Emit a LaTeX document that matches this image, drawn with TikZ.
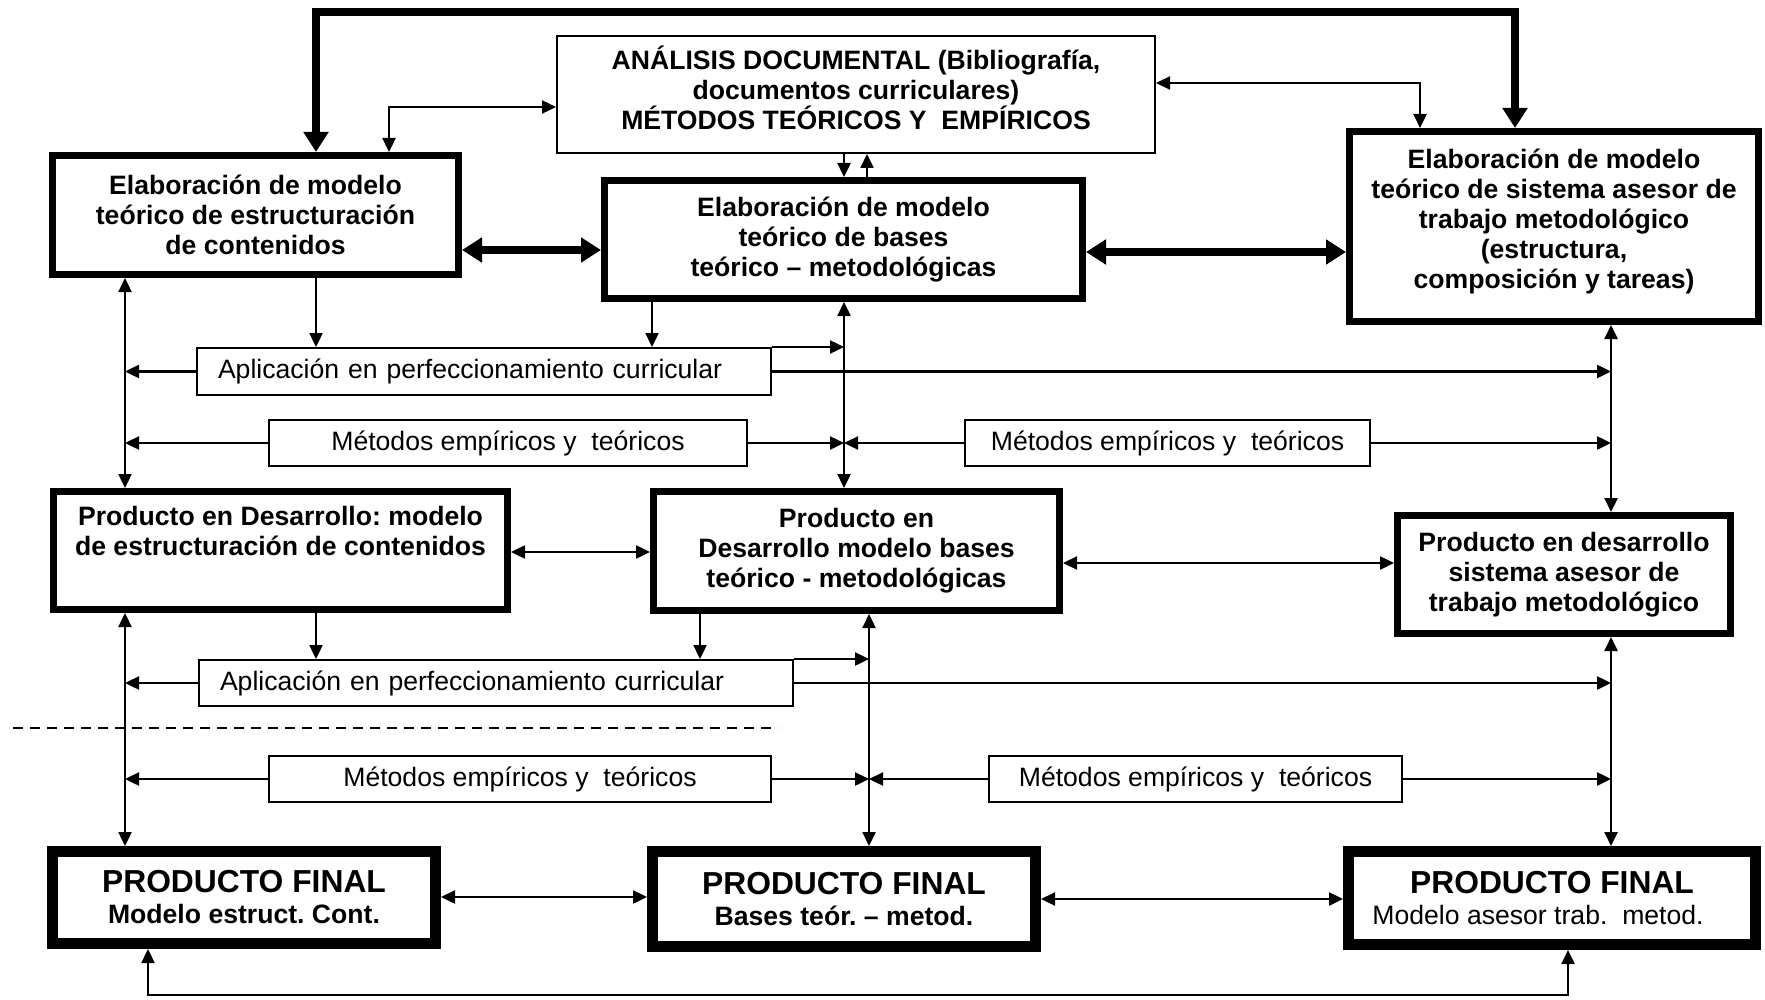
\documentclass[tikz,border=0pt]{standalone}
\usepackage{fontspec}
\setmainfont{Liberation Sans}
\usetikzlibrary{arrows.meta}
\frenchspacing
\begin{document}
\begin{tikzpicture}[x=0.5pt,y=-0.5pt,
  smalltip/.tip={Triangle[length=7pt,width=6.5pt]},
  bigtip/.tip={Triangle[length=10pt,width=12pt]},
  >=smalltip,
  txt/.style={inner sep=0pt, align=center, font=\fontsize{13.3}{15}\selectfont\bfseries},
  thinbox/.style={txt, draw, line width=1pt},
  boldbox/.style={txt, draw, line width=3.5pt},
  finalbox/.style={txt, draw, line width=5.5pt, font=\fontsize{15.9}{15.5}\selectfont\bfseries},
  lblbox/.style={draw, line width=1pt, inner sep=0pt, align=center, font=\fontsize{13.3}{15}\selectfont},
  applbox/.style={draw, line width=1pt, inner ysep=0pt, inner xsep=10.5pt, align=left, font=\fontsize{13.3}{15}\selectfont},
  link/.style={line width=1.2pt},
  heavy/.style={line width=4pt, bigtip-bigtip, line join=miter}
]
\useasboundingbox (0,0) rectangle (1765,1000);

% ---------- upper level: elaboration of models ----------
\node[thinbox, minimum width=299pt, minimum height=58.5pt, text depth=7pt] (ana) at (856,94.5)
  {ANÁLISIS DOCUMENTAL (Bibliografía,\\documentos curriculares)\\MÉTODOS TEÓRICOS Y\ \ EMPÍRICOS};
\node[boldbox, minimum width=203pt, minimum height=59.5pt] (em1) at (255.5,215)
  {Elaboración de modelo\\teórico de estructuración\\de contenidos};
\node[boldbox, minimum width=239pt, minimum height=59pt] (em2) at (843.5,239.5)
  {Elaboración de modelo\\teórico de bases\\teórico – metodológicas};
\node[boldbox, minimum width=204.5pt, minimum height=95pt, text depth=7.8pt] (em3) at (1554,226.5)
  {Elaboración de modelo\\teórico de sistema asesor de\\trabajo metodológico\\(estructura,\\composición y tareas)};

% ---------- first application / methods row ----------
\node[applbox, text width=266pt, minimum height=23.5pt] (app1) at (484,371.5)
  {Aplicación en perfeccionamiento curricular};
\node[lblbox, minimum width=239pt, minimum height=23pt] (met1) at (508,443)
  {Métodos empíricos y\ \ teóricos};
\node[lblbox, minimum width=202.5pt, minimum height=23pt] (met2) at (1167.5,443)
  {Métodos empíricos y\ \ teóricos};

% ---------- products in development ----------
\node[boldbox, minimum width=227pt, minimum height=59pt] (prod1) at (280.5,550.5)
  {Producto en Desarrollo: modelo\\de estructuración de contenidos\\\strut};
\node[boldbox, minimum width=203pt, minimum height=59.5pt] (prod2) at (856.5,551)
  {Producto en\\Desarrollo modelo bases\\teórico - metodológicas};
\node[boldbox, minimum width=166.5pt, minimum height=59pt] (prod3) at (1564,574.5)
  {Producto en desarrollo\\sistema asesor de\\trabajo metodológico};

% ---------- second application / methods row ----------
\node[applbox, text width=276pt, minimum height=23pt] (app2) at (496,683)
  {Aplicación en perfeccionamiento curricular};
\node[lblbox, minimum width=251pt, minimum height=23pt] (met3) at (520,779)
  {Métodos empíricos y\ \ teóricos};
\node[lblbox, minimum width=206.5pt, minimum height=23pt] (met4) at (1195.5,779)
  {Métodos empíricos y\ \ teóricos};

% ---------- final products ----------
\node[finalbox, minimum width=191.5pt, minimum height=46pt] (pf1) at (244,897.5)
  {PRODUCTO FINAL\\{\fontsize{13.3}{15.5}\selectfont Modelo estruct. Cont.}};
\node[finalbox, minimum width=191.5pt, minimum height=47.5pt] (pf2) at (844,899)
  {PRODUCTO FINAL\\{\fontsize{13.3}{15.5}\selectfont Bases teór. – metod.}};
\node[finalbox, minimum width=203.5pt, minimum height=46.5pt] (pf3) at (1552,898)
  {PRODUCTO FINAL\\{\fontsize{13.3}{15.5}\selectfont\mdseries Modelo asesor trab.\ \ metod.\hspace*{14pt}}};

% ---------- guide coordinates ----------
\coordinate (xl) at (125,0);
\coordinate (xm1) at (844,0);
\coordinate (xm2) at (869,0);
\coordinate (xr) at (1611,0);
\coordinate (ka) at (316,12);
\coordinate (kb) at (1515,12);
\coordinate (c1) at (389,107);
\coordinate (c2) at (1420,83);
\coordinate (c3) at (844,0);
\coordinate (c4) at (867,0);
\coordinate (c5) at (652,0);
\coordinate (c6) at (700,0);
\coordinate (h1) at (0,250);
\coordinate (h2) at (0,252);
\coordinate (h3) at (0,552);
\coordinate (h4) at (0,563);
\coordinate (h5) at (0,897);
\coordinate (h6) at (0,899);
\coordinate (b1) at (148,995);
\coordinate (b2) at (1568,995);
\coordinate (d1) at (13,728);
\coordinate (d2) at (778,728);

% ---------- top connections ----------
\draw[heavy] (em1.north -| ka) -- (ka) -- (kb) -- (em3.north -| kb);
\draw[link,<->] (c1 -| ana.west) -| (em1.north -| c1);
\draw[link,<->] (c2 -| ana.east) -| (em3.north -| c2);
\draw[link,->] (ana.south -| c3) -- (em2.north -| c3);
\draw[link,->] (em2.north -| c4) -- (ana.south -| c4);
\draw[heavy] (em1.east |- h1) -- (em2.west |- h1);
\draw[heavy] (em2.east |- h2) -- (em3.west |- h2);

% ---------- upper verticals and their feeds ----------
\draw[link,->] (em1.south -| ka) -- (app1.north -| ka);
\draw[link,->] (em2.south -| c5) -- (app1.north -| c5);
\draw[link,<->] (em1.south -| xl) -- (prod1.north -| xl);
\draw[link,<->] (em2.south -| xm1) -- (prod2.north -| xm1);
\draw[link,<->] (em3.south -| xr) -- (prod3.north -| xr);
\draw[link,->] (app1.north east) -- (app1.north east -| xm1);
\draw[link,->] (app1.east) -- (app1.east -| xr);
\draw[link,->] (app1.west) -- (app1.west -| xl);
\draw[link,->] (met1.west) -- (met1.west -| xl);
\draw[link,->] (met1.east) -- (met1.east -| xm1);
\draw[link,->] (met2.west) -- (met2.west -| xm1);
\draw[link,->] (met2.east) -- (met2.east -| xr);

% ---------- products in development ----------
\draw[link,<->] (prod1.east |- h3) -- (prod2.west |- h3);
\draw[link,<->] (prod2.east |- h4) -- (prod3.west |- h4);

% ---------- lower verticals and their feeds ----------
\draw[link,->] (prod1.south -| ka) -- (app2.north -| ka);
\draw[link,->] (prod2.south -| c6) -- (app2.north -| c6);
\draw[link,<->] (prod1.south -| xl) -- (pf1.north -| xl);
\draw[link,<->] (prod2.south -| xm2) -- (pf2.north -| xm2);
\draw[link,<->] (prod3.south -| xr) -- (pf3.north -| xr);
\draw[link,->] (app2.north east) -- (app2.north east -| xm2);
\draw[link,->] (app2.east) -- (app2.east -| xr);
\draw[link,->] (app2.west) -- (app2.west -| xl);
\draw[link,->] (met3.west) -- (met3.west -| xl);
\draw[link,->] (met3.east) -- (met3.east -| xm2);
\draw[link,->] (met4.west) -- (met4.west -| xm2);
\draw[link,->] (met4.east) -- (met4.east -| xr);

% ---------- final products ----------
\draw[link,<->] (pf1.east |- h5) -- (pf2.west |- h5);
\draw[link,<->] (pf2.east |- h6) -- (pf3.west |- h6);
\draw[link,<->] (pf1.south -| b1) -- (b1) -- (b2) -- (pf3.south -| b2);

% ---------- separator ----------
\draw[line width=1pt, dash pattern=on 5pt off 3.5pt] (d1) -- (d2);
\end{tikzpicture}
\end{document}
